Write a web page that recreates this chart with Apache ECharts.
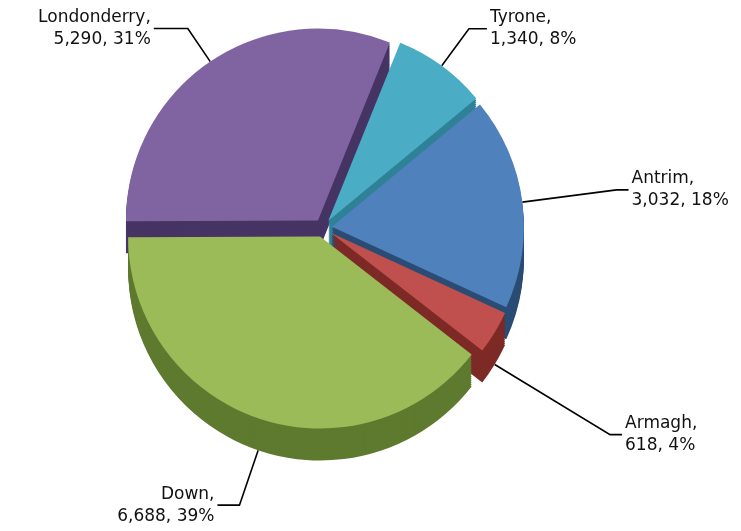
<!DOCTYPE html>
<html><head><meta charset="utf-8">
<script src="https://cdn.jsdelivr.net/npm/echarts@6/dist/echarts.min.js"></script>
<style>html,body{margin:0;background:#fff}#c{width:741px;height:531px}</style>
</head><body><div id="c"></div>
<script>
// Households by county
const counties = ['Tyrone', 'Antrim', 'Armagh', 'Down', 'Londonderry'];
const households = [1340, 3032, 618, 6688, 5290];

// Face and side colours of each slice
const topColors = ['#4BACC6', '#4F81BD', '#C0504D', '#9BBB59', '#8064A2'];
const sideColors = ['#2F8197', '#2B4C74', '#7D2A27', '#5E7A2E', '#463464'];

// Geometry of the pseudo-3D pie
const center = [323, 228];
const radius = 192;
const depth = 32;
const step = 2;
const explode = 9;

// Leader line lengths per slice [radial, horizontal]
const lineLen = { Tyrone: [46, 18], Antrim: [95, 12], Armagh: [135, 12], Down: [58, 22], Londonderry: [40, 34] };
// Slices whose label hangs from the bottom rim
const labelOnBase = ['Armagh', 'Down'];

const fmt = p => p.name + ',\n' + p.value.toLocaleString('en-US') + ', ' + Math.round(p.percent) + '%';

const labelStyle = {
  formatter: fmt,
  fontFamily: 'DejaVu Sans',
  fontSize: 17,
  lineHeight: 22,
  color: '#111',
  distanceToLabelLine: 3
};

function layer(offsetY, colors, withLabels, z) {
  return {
    type: 'pie',
    z: z,
    center: [center[0], center[1] + offsetY],
    radius: radius,
    startAngle: 68,
    clockwise: true,
    selectedMode: 'multiple',
    selectedOffset: explode,
    avoidLabelOverlap: false,
    silent: true,
    animation: false,
    emphasis: { disabled: true },
    itemStyle: { borderWidth: 0 },
    labelLine: { lineStyle: { color: '#000', width: 1.6 } },
    data: counties.map((name, i) => {
      const show = withLabels(name);
      return {
        name: name,
        value: households[i],
        selected: true,
        itemStyle: { color: colors[i] },
        label: Object.assign({ show: show }, labelStyle),
        labelLine: { show: show, length: lineLen[name][0], length2: lineLen[name][1], smooth: false }
      };
    })
  };
}

const series = [];
for (let d = depth; d >= step; d -= step) {
  series.push(layer(d, sideColors, d === depth ? (n => labelOnBase.includes(n)) : (() => false), 1));
}
series.push(layer(0, topColors, n => !labelOnBase.includes(n), 3));

const chart = echarts.init(document.getElementById('c'), null, { renderer: 'canvas' });
chart.setOption({ backgroundColor: '#fff', animation: false, series: series });
</script>
</body></html>
